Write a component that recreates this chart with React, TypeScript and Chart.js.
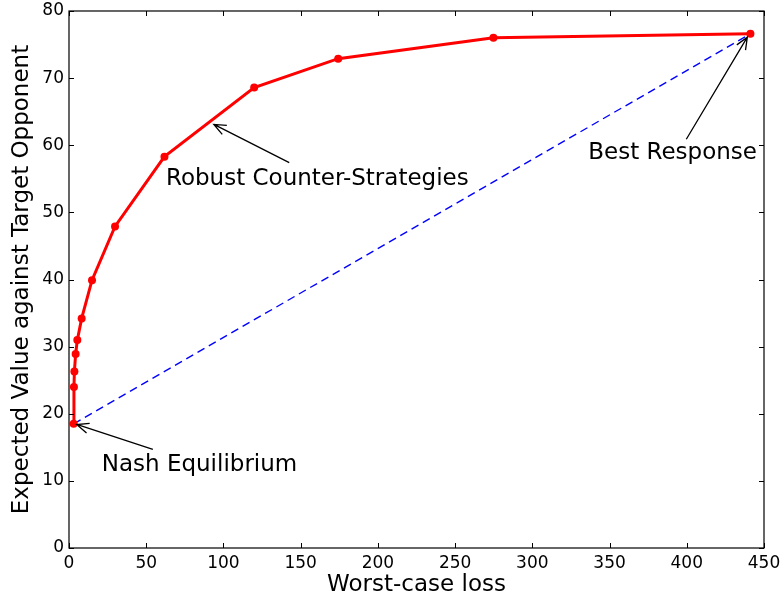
import React, { useEffect, useRef } from "react";
import { Chart, registerables } from "chart.js";

Chart.register(...registerables);

// Worst-case loss (x) and expected value against target opponent (y)
const worstCaseLoss = [3.0, 3.2, 3.5, 4.3, 5.4, 8.2, 14.9, 29.8, 61.8, 119.9, 174.3, 274.8, 441.2];
const expectedValue = [18.5, 24.0, 26.3, 28.9, 31.0, 34.2, 39.9, 47.9, 58.3, 68.6, 72.9, 76.0, 76.6];

const xTicks = [0, 50, 100, 150, 200, 250, 300, 350, 400, 450];
const yTicks = [0, 10, 20, 30, 40, 50, 60, 70, 80];

// Annotation labels (data coordinates): text anchor (left, baseline), arrow tail, arrow head
const annotationTexts = ["Nash Equilibrium", "Robust Counter-Strategies", "Best Response"];
const annotationTextX = [21.2, 62.8, 336.2];
const annotationTextY = [11.5, 54.1, 57.9];
const arrowTailX = [54.3, 142.6, 399.7];
const arrowTailY = [14.7, 57.4, 60.9];
const arrowHeadX = [5.0, 93.8, 439.2];
const arrowHeadY = [18.4, 63.1, 76.1];

const FONT = "'DejaVu Sans', sans-serif";

const framePlugin = {
  id: "frameAndAnnotations",
  afterDatasetsDraw(chart: any) {
    const { ctx, chartArea } = chart;
    const xs = chart.scales.x;
    const ys = chart.scales.y;
    ctx.save();
    // frame
    ctx.strokeStyle = "#000";
    ctx.lineWidth = 1.2;
    ctx.strokeRect(chartArea.left, chartArea.top, chartArea.right - chartArea.left, chartArea.bottom - chartArea.top);
    // inward ticks on all sides
    const tl = 5;
    ctx.lineWidth = 1;
    ctx.beginPath();
    xTicks.forEach((v) => {
      const px = Math.round(xs.getPixelForValue(v)) + 0.5;
      ctx.moveTo(px, chartArea.bottom);
      ctx.lineTo(px, chartArea.bottom - tl);
      ctx.moveTo(px, chartArea.top);
      ctx.lineTo(px, chartArea.top + tl);
    });
    yTicks.forEach((v) => {
      const py = Math.round(ys.getPixelForValue(v)) + 0.5;
      ctx.moveTo(chartArea.left, py);
      ctx.lineTo(chartArea.left + tl, py);
      ctx.moveTo(chartArea.right, py);
      ctx.lineTo(chartArea.right - tl, py);
    });
    ctx.stroke();

    // annotations
    ctx.fillStyle = "#000";
    ctx.font = `23px ${FONT}`;
    ctx.textAlign = "left";
    ctx.textBaseline = "alphabetic";
    annotationTexts.forEach((t, i) => {
      ctx.fillText(t, xs.getPixelForValue(annotationTextX[i]), ys.getPixelForValue(annotationTextY[i]));
      const x0 = xs.getPixelForValue(arrowTailX[i]);
      const y0 = ys.getPixelForValue(arrowTailY[i]);
      const x1 = xs.getPixelForValue(arrowHeadX[i]);
      const y1 = ys.getPixelForValue(arrowHeadY[i]);
      const ang = Math.atan2(y1 - y0, x1 - x0);
      const hl = 13;
      const ha = 0.4;
      ctx.lineWidth = 1.3;
      ctx.strokeStyle = "#000";
      ctx.beginPath();
      ctx.moveTo(x0, y0);
      ctx.lineTo(x1, y1);
      ctx.moveTo(x1 - hl * Math.cos(ang - ha), y1 - hl * Math.sin(ang - ha));
      ctx.lineTo(x1, y1);
      ctx.lineTo(x1 - hl * Math.cos(ang + ha), y1 - hl * Math.sin(ang + ha));
      ctx.stroke();
    });
    ctx.restore();
  },
};

export default function App() {
  const ref = useRef<HTMLCanvasElement | null>(null);
  useEffect(() => {
    document.body.style.margin = "0";
    const canvas = ref.current;
    if (!canvas) return;
    const points = worstCaseLoss.map((x, i) => ({ x, y: expectedValue[i] }));
    const last = points.length - 1;
    const chart = new Chart(canvas, {
      type: "scatter",
      data: {
        datasets: [
          {
            data: points,
            showLine: true,
            borderColor: "#ff0000",
            backgroundColor: "#ff0000",
            borderWidth: 3,
            pointRadius: 4,
            pointBorderWidth: 0,
            tension: 0,
          },
          {
            data: [points[0], points[last]],
            showLine: true,
            borderColor: "#0000ff",
            borderWidth: 1.4,
            borderDash: [8, 5],
            pointRadius: 0,
            tension: 0,
          },
        ],
      },
      options: {
        animation: false,
        responsive: false,
        devicePixelRatio: 1,
        layout: { padding: { top: 11, right: 18, left: 0, bottom: 0 } },
        plugins: { legend: { display: false }, tooltip: { enabled: false } },
        scales: {
          x: {
            type: "linear",
            min: 0,
            max: 450,
            afterBuildTicks: (s: any) => {
              s.ticks = xTicks.map((v) => ({ value: v }));
            },
            afterFit: (s: any) => {
              s.height = 50;
              s.paddingLeft = 0;
              s.paddingRight = 0;
              s.paddingTop = 0;
              s.paddingBottom = 0;
            },
            grid: { display: false, drawTicks: false },
            border: { display: false },
            ticks: { color: "#000", font: { family: FONT, size: 17 }, padding: 5, maxRotation: 0 },
            title: {
              display: true,
              text: "Worst-case loss",
              color: "#000",
              font: { family: FONT, size: 23, lineHeight: 1.15 },
              padding: { top: 0, bottom: 0 },
            },
          },
          y: {
            type: "linear",
            min: 0,
            max: 80,
            afterBuildTicks: (s: any) => {
              s.ticks = yTicks.map((v) => ({ value: v }));
            },
            afterFit: (s: any) => {
              s.width = 69;
              s.paddingLeft = 0;
              s.paddingRight = 0;
              s.paddingTop = 0;
              s.paddingBottom = 0;
            },
            grid: { display: false, drawTicks: false },
            border: { display: false },
            ticks: { color: "#000", font: { family: FONT, size: 17 }, padding: 5 },
            title: {
              display: true,
              text: "Expected Value against Target Opponent",
              color: "#000",
              font: { family: FONT, size: 23, lineHeight: 1.15 },
              padding: { top: 9, bottom: 0 },
            },
          },
        },
      },
      plugins: [framePlugin],
    });
    return () => chart.destroy();
  }, []);
  return (
    <div style={{ width: 782, height: 598 }}>
      <canvas ref={ref} width={782} height={598} />
    </div>
  );
}
